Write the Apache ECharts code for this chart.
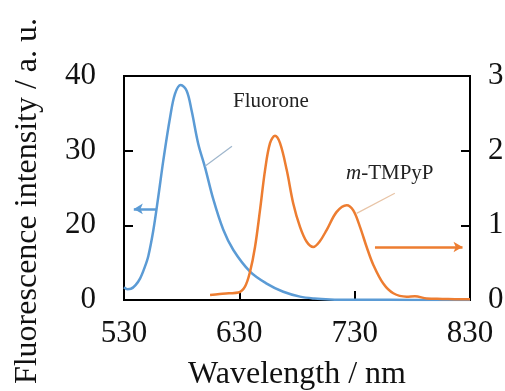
<!DOCTYPE html>
<html>
<head>
<meta charset="utf-8">
<script src="https://cdn.jsdelivr.net/npm/echarts@6/dist/echarts.min.js"></script>
<style>
  html, body { margin: 0; padding: 0; background: #fff; }
  #chart { width: 505px; height: 391px; }
</style>
</head>
<body>
<div id="chart"></div>
<script>
// Emission spectra: Fluorone (left axis) and m-TMPyP (right axis)
const fluoroneWavelength = [530, 533, 536, 540, 544, 548, 551.1, 555.4, 559.7, 564.1, 569.9, 574.2, 579.2, 584.4, 588.7, 594.4, 600.2, 607.4, 616.1, 624.8, 639.3, 653.7, 668.1, 682.6, 695, 708.6, 730, 760, 800, 830];
const fluoroneIntensity  = [11.7, 11.45, 11.5, 12.0, 12.9, 14.4, 15.9, 19.3, 23.8, 28.7, 34.4, 37.6, 38.8, 38.0, 35.3, 30.9, 27.8, 23.5, 19.4, 16.7, 13.8, 12.2, 11.1, 10.45, 10.2, 10.08, 10.03, 10.02, 10.01, 10.0];

const tmpypWavelength = [604.6, 613, 621, 629.1, 634.9, 639.3, 643.6, 647.9, 652.3, 656.6, 660.9, 665.3, 671.1, 676.8, 682.6, 688.4, 694.1, 699.5, 705.8, 714.4, 723.1, 728.8, 734.6, 740.4, 746.2, 754.8, 763.5, 775.1, 782.3, 792.5, 806, 821.3, 830];
const tmpypIntensity  = [0.067, 0.08, 0.09, 0.10, 0.18, 0.38, 0.71, 1.20, 1.74, 2.10, 2.20, 2.10, 1.74, 1.29, 0.98, 0.78, 0.71, 0.78, 0.94, 1.18, 1.27, 1.20, 0.98, 0.71, 0.47, 0.22, 0.09, 0.045, 0.05, 0.02, 0.015, 0.01, 0.01];

const xTicks = { min: 530, max: 830, step: 100 };
const leftTickLabels = ['0', '20', '30', '40'];
const rightTickLabels = ['0', '1', '2', '3'];

const serif = '"Liberation Serif", "DejaVu Serif", serif';
const blue = '#5b9bd5';
const orange = '#ed7d31';

const zip = (xs, ys) => xs.map((x, i) => [x, ys[i]]);

const chart = echarts.init(document.getElementById('chart'), null, { renderer: 'canvas' });

const axisLabelStyle = { color: '#111', fontFamily: serif, fontSize: 31 };
const frameLine = { show: true, lineStyle: { color: '#000', width: 2 } };
const innerTick = { show: true, inside: true, length: 9, lineStyle: { color: '#000', width: 2 } };

chart.setOption({
  animation: false,
  backgroundColor: '#fff',
  grid: {
    left: 124, right: 35, top: 76, bottom: 91,
    containLabel: false, outerBoundsMode: 'none',
    show: true, borderColor: '#000', borderWidth: 2
  },
  xAxis: {
    type: 'value',
    min: xTicks.min, max: xTicks.max, interval: xTicks.step,
    name: 'Wavelength / nm',
    nameLocation: 'middle',
    nameGap: 59,
    nameTextStyle: { color: '#111', fontFamily: serif, fontSize: 32 },
    axisLine: frameLine,
    axisTick: innerTick,
    axisLabel: Object.assign({ margin: 18 }, axisLabelStyle),
    splitLine: { show: false }
  },
  yAxis: [
    {
      type: 'value',
      min: 10, max: 40, interval: 10,
      position: 'left',
      name: 'Fluorescence intensity / a. u.',
      nameLocation: 'middle',
      nameGap: 80,
      nameTextStyle: { color: '#111', fontFamily: serif, fontSize: 32, padding: [0, 26, 0, 0] },
      axisLine: frameLine,
      axisTick: innerTick,
      axisLabel: Object.assign({ margin: 28, formatter: (v, i) => leftTickLabels[i] }, axisLabelStyle),
      splitLine: { show: false }
    },
    {
      type: 'value',
      min: 0, max: 3, interval: 1,
      position: 'right',
      axisLine: frameLine,
      axisTick: innerTick,
      axisLabel: Object.assign({ margin: 18, formatter: (v, i) => rightTickLabels[i] }, axisLabelStyle),
      splitLine: { show: false }
    }
  ],
  series: [
    {
      name: 'Fluorone',
      type: 'line',
      yAxisIndex: 0,
      data: zip(fluoroneWavelength, fluoroneIntensity),
      smooth: 0.35,
      showSymbol: false,
      lineStyle: { color: blue, width: 2.5 },
      markLine: {
        silent: true,
        symbol: ['none', 'none'],
        label: { show: false },
        data: [
          [
            { coord: [557.7, 22.2], symbol: 'none', lineStyle: { color: blue, width: 2.5, type: 'solid' } },
            { coord: [538.5, 22.2], symbol: 'arrow', symbolSize: [8, 9], symbolRotate: 90 }
          ],
          [
            { coord: [623.6, 30.6], lineStyle: { color: '#9fb6cc', width: 1.2, type: 'solid' } },
            { coord: [600.2, 27.9] }
          ]
        ]
      }
    },
    {
      name: 'm-TMPyP',
      type: 'line',
      yAxisIndex: 1,
      data: zip(tmpypWavelength, tmpypIntensity),
      smooth: 0.35,
      showSymbol: false,
      lineStyle: { color: orange, width: 2.5 },
      markLine: {
        silent: true,
        symbol: ['none', 'none'],
        label: { show: false },
        data: [
          [
            { coord: [747.6, 0.71], symbol: 'none', lineStyle: { color: orange, width: 2.5, type: 'solid' } },
            { coord: [823.5, 0.71], symbol: 'arrow', symbolSize: [8, 9] }
          ],
          [
            { coord: [764.8, 1.43], lineStyle: { color: '#e8c4a6', width: 1.2, type: 'solid' } },
            { coord: [731.7, 1.16] }
          ]
        ]
      }
    }
  ],
  graphic: [
    {
      type: 'text', left: 233, top: 91,
      style: { text: 'Fluorone', fill: '#222', font: '21px ' + serif }
    },
    {
      type: 'text', left: 346, top: 163,
      style: {
        text: '{i|m}-TMPyP',
        fill: '#222',
        font: '21px ' + serif,
        rich: { i: { fontStyle: 'italic', fontFamily: serif, fontSize: 21, fill: '#222' } }
      }
    }
  ]
});
</script>
</body>
</html>
